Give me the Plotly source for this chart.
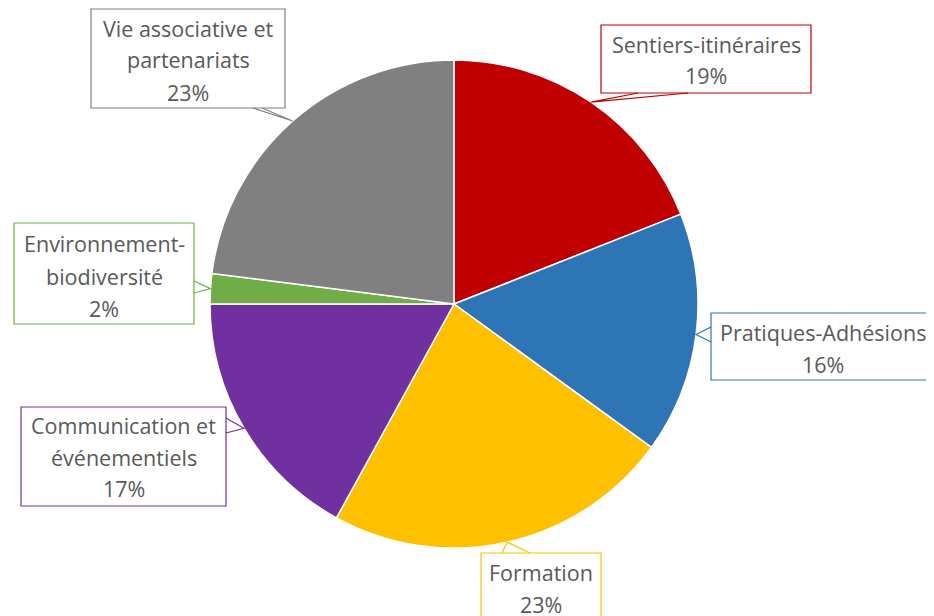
import math
import plotly.graph_objects as go

# ---- data ----
categories = ["Sentiers-itinéraires", "Pratiques-Adhésions", "Formation",
              "Communication et événementiels", "Environnement-biodiversité",
              "Vie associative et partenariats"]
values = [19, 16, 23, 17, 2, 23]
label_lines = [["Sentiers-itinéraires", "19%"],
               ["Pratiques-Adhésions", "16%"],
               ["Formation", "23%"],
               ["Communication et", "événementiels", "17%"],
               ["Environnement-", "biodiversité", "2%"],
               ["Vie associative et", "partenariats", "23%"]]
colors = ["#C00000", "#2E75B6", "#FFC000", "#7030A0", "#70AD47", "#808080"]

OFF = 8  # page offset of the figure inside the window
W, H = 934 - OFF, 616 - OFF
CX, CY, R = 454, 304, 244

# label box layout (window pixels: x0, y0, x1, y1) and wedge base points
boxes = [(601, 25, 811, 93), (711, 313, 935, 380), (481, 553, 601, 630),
         (21, 407, 226, 506), (14, 223, 194, 324), (91, 9, 285, 108)]
wedge_base = [((638, 93), (688, 93)), ((711, 327), (711, 342)), ((502, 553), (530, 553)),
              ((226, 418), (226, 433)), ((194, 281), (194, 293)), ((253, 108), (262, 108))]
text_centers = [(706, 60), (823, 348), (541, 588), (124, 457), (104, 276), (188, 60)]

def px(x):
    return (x - OFF) / W

def py(y):
    return 1 - (y - OFF) / H

fig = go.Figure(go.Pie(
    labels=categories, values=values, sort=False, direction="clockwise",
    rotation=0, textinfo="none", hoverinfo="label+percent",
    marker=dict(colors=colors, line=dict(color="white", width=1.5)),
    domain=dict(x=[px(CX - R), px(CX + R)], y=[py(CY + R), py(CY - R)]),
    showlegend=False,
))

shapes = []
annotations = []
total = sum(values)
cum = 0
for i, v in enumerate(values):
    mid = (cum + v / 2) / total * 2 * math.pi
    cum += v
    ax = CX + R * math.sin(mid)
    ay = CY - R * math.cos(mid)
    col = colors[i]
    x0, y0, x1, y1 = boxes[i]
    shapes.append(dict(type="rect", xref="paper", yref="paper",
                       x0=px(x0), x1=px(x1), y0=py(y1), y1=py(y0),
                       line=dict(color=col, width=1.2), fillcolor="white", layer="above"))
    (bx1, by1), (bx2, by2) = wedge_base[i]
    path = f"M {px(bx1)},{py(by1)} L {px(ax)},{py(ay)} L {px(bx2)},{py(by2)}"
    shapes.append(dict(type="path", xref="paper", yref="paper", path=path,
                       line=dict(color=col, width=1.2), layer="above"))
    lines = label_lines[i]
    n = len(lines)
    cxb, cy = text_centers[i]
    for j, t in enumerate(lines):
        ly = cy + (j - (n - 1) / 2) * 32
        annotations.append(dict(x=px(cxb), y=py(ly), xref="paper", yref="paper",
                                text=t, showarrow=False, xanchor="center", yanchor="middle",
                                font=dict(family="Open Sans, sans-serif", size=21.5, color="#595959")))

fig.update_layout(width=W, height=H, margin=dict(l=0, r=0, t=0, b=0),
                  paper_bgcolor="white", plot_bgcolor="white",
                  shapes=shapes, annotations=annotations)

fig.write_html("out.html")
